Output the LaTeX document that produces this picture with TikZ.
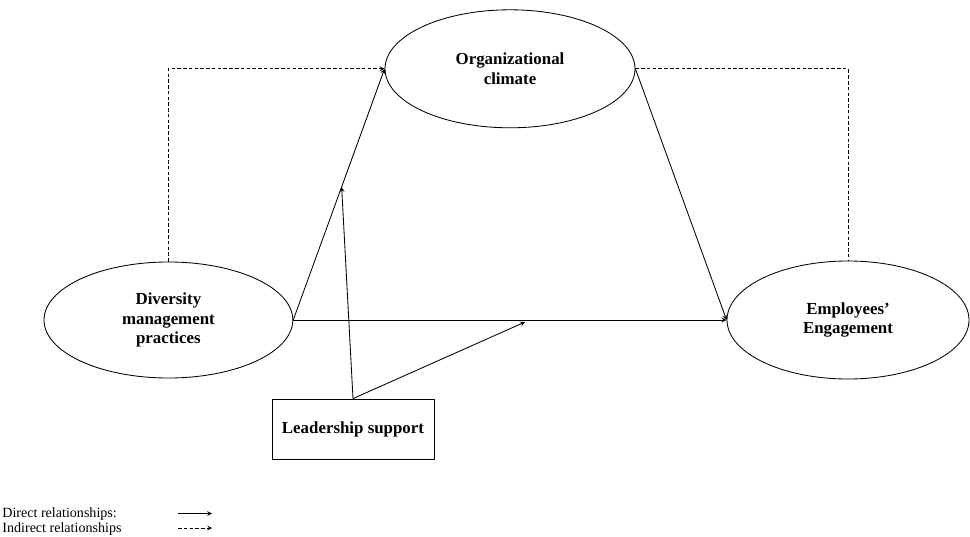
\documentclass[tikz,border=0pt]{standalone}
\usepackage{fontspec}
\setmainfont{Liberation Serif}
\usetikzlibrary{shapes.geometric,calc}
\tikzset{
	construct/.style={draw, ellipse, inner sep=0pt, align=center, font=\fontsize{12}{14}\selectfont\bfseries},
	moderator/.style={draw, rectangle, inner sep=0pt, minimum width=4.05cm, minimum height=1.5cm, font=\fontsize{12}{14}\selectfont\bfseries},
	indirect/.style={dash pattern=on 2.5pt off 1.6pt}
}
\begin{document}
\begin{tikzpicture}[scale=1, line width=0.6pt, line join=round, >=stealth]
		\useasboundingbox (0,0) rectangle (24.25,-13.425);
		% constructs
		\node[construct, minimum width=6.25cm, minimum height=2.95cm] (org) at (12.75,-1.72) {Organizational\\climate};
		\node[construct, minimum width=6.22cm, minimum height=2.9cm] (div) at (4.21,-8.0) {Diversity\\management\\practices};
		\node[construct, minimum width=6.05cm, minimum height=2.95cm] (emp) at (21.2,-8.0) {Employees'\\Engagement};
		\node[moderator] (lead) at (8.825,-10.725) {Leadership support};
		% direct paths
		\draw[->] (div.east) -- (org.west);
		\draw[->] (div.east) -- (emp.west);
		\draw[->] (org.east) -- (emp.west);
		% moderation by leadership
		\coordinate (m1) at ($(div.east)!0.53!(org.west)$);
		\coordinate (m2) at ($(div.east)!0.535!(emp.west)+(0,-0.05)$);
		\draw[->] (lead.north) -- (m1);
		\draw[->] (lead.north) -- (m2);
		% indirect path
		\draw[indirect, ->] (div.north) |- (org.west);
		\draw[indirect] (org.east) -| (emp.north);
		% legend
		\node[anchor=west, font=\fontsize{10}{12}\selectfont, inner sep=0pt] (ldir) at (0.05,-12.86) {Direct relationships:};
		\node[anchor=west, font=\fontsize{10}{12}\selectfont, inner sep=0pt] (lind) at (0.05,-13.24) {Indirect relationships};
		\coordinate (a1) at (4.45,-12.84);
		\coordinate (a2) at (5.3,-12.84);
		\coordinate (b1) at (4.45,-13.2);
		\coordinate (b2) at (5.3,-13.2);
		\draw[->, line width=0.5pt] (a1) -- (a2);
		\draw[indirect, ->, line width=0.5pt] (b1) -- (b2);
	\end{tikzpicture}
\end{document}
